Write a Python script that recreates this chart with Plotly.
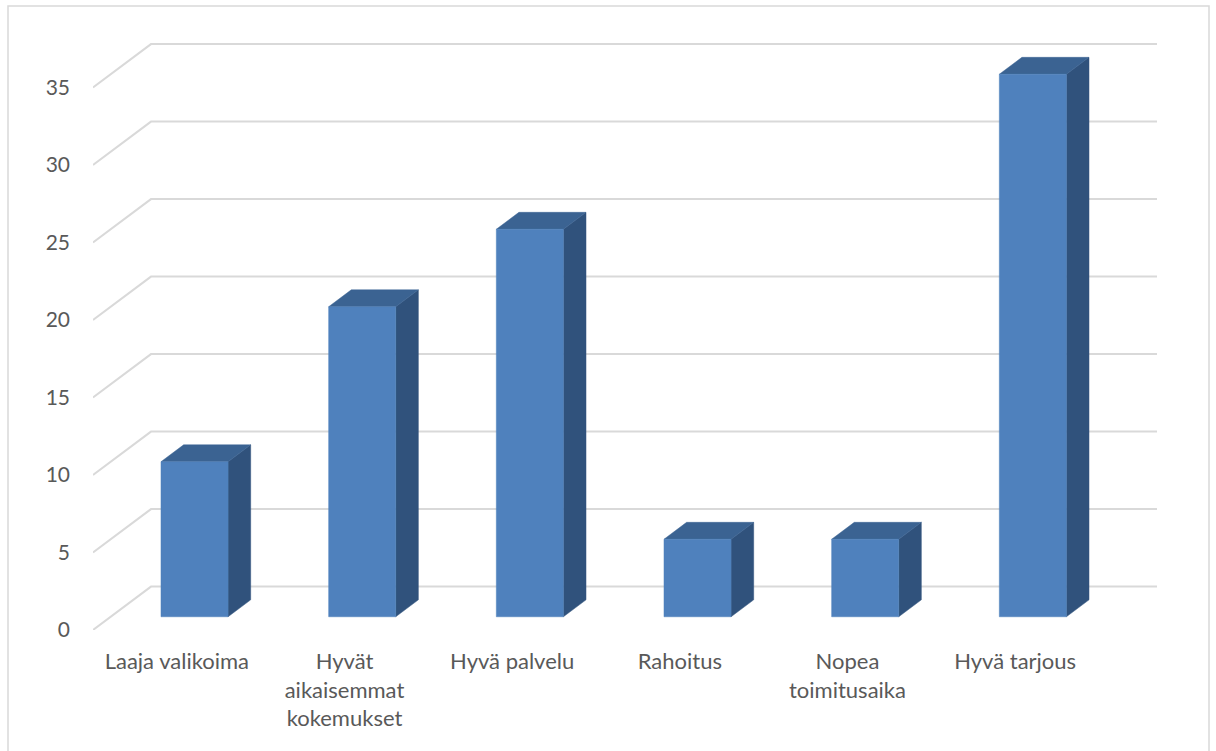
import plotly.graph_objects as go

# Data
categories = [
    "Laaja valikoima",
    "Hyvät<br>aikaisemmat<br>kokemukset",
    "Hyvä palvelu",
    "Rahoitus",
    "Nopea<br>toimitusaika",
    "Hyvä tarjous",
]
values = [10, 20, 25, 5, 5, 35]
y_ticks = [0, 5, 10, 15, 20, 25, 30, 35]

# Oblique projection of the depth axis, expressed in axis units
DEPTH_X = 0.346      # category units
DEPTH_Y = 2.8        # value units
BAR_FRONT = 0.305    # depth fraction where bar fronts sit
BAR_DEPTH = 0.39     # depth fraction taken by each bar
BAR_WIDTH = 0.4      # share of a category slot

FRONT_COLOR = "#4f81bd"
TOP_COLOR = "#3b6392"
SIDE_COLOR = "#30527c"
GRID_COLOR = "#d9d9d9"
TEXT_COLOR = "#595959"
FONT = "Lato"

fig = go.Figure()

# Walls: back-wall gridlines and the left-wall diagonals
n = len(categories)
for t in y_ticks:
    fig.add_trace(go.Scatter(
        x=[0, DEPTH_X, n + DEPTH_X], y=[t, t + DEPTH_Y, t + DEPTH_Y],
        mode="lines", line=dict(color=GRID_COLOR, width=2),
        hoverinfo="skip", showlegend=False,
    ))

# Bars as three projected faces each
dx0, dy0 = BAR_FRONT * DEPTH_X, BAR_FRONT * DEPTH_Y
ddx, ddy = BAR_DEPTH * DEPTH_X, BAR_DEPTH * DEPTH_Y
for i, v in enumerate(values):
    xl = i + 0.5 - BAR_WIDTH / 2 + dx0
    xr = i + 0.5 + BAR_WIDTH / 2 + dx0
    yb, yt = dy0, v + dy0
    faces = [
        (SIDE_COLOR, [xr, xr, xr + ddx, xr + ddx, xr], [yb, yt, yt + ddy, yb + ddy, yb]),
        (TOP_COLOR, [xl, xr, xr + ddx, xl + ddx, xl], [yt, yt, yt + ddy, yt + ddy, yt]),
        (FRONT_COLOR, [xl, xr, xr, xl, xl], [yb, yb, yt, yt, yb]),
    ]
    for color, fx, fy in faces:
        fig.add_trace(go.Scatter(
            x=fx, y=fy, mode="lines", fill="toself", fillcolor=color,
            line=dict(color=color, width=0.5),
            hoverinfo="skip", showlegend=False,
        ))

W, H = 1216, 751
L, R, T, B = 93, 59, 43, 121
px_per_val = 15.5
y_max = (H - T - B) / px_per_val

fig.update_layout(
    width=W, height=H, autosize=False,
    margin=dict(l=L, r=R, t=T, b=B, pad=0),
    paper_bgcolor="white", plot_bgcolor="white",
    font=dict(family=FONT, size=22, color=TEXT_COLOR),
    xaxis=dict(
        range=[0, n + DEPTH_X], showgrid=False, zeroline=False, showline=False,
        tickvals=[i + 0.5 for i in range(n)], ticktext=categories,
        tickfont=dict(size=22), ticks="", ticklabelstandoff=16, fixedrange=True,
    ),
    yaxis=dict(
        range=[0, y_max], showgrid=False, zeroline=False, showline=False,
        tickvals=y_ticks, tickfont=dict(size=21), ticks="",
        ticklabelstandoff=22, fixedrange=True,
    ),
    shapes=[dict(
        type="rect", xref="paper", yref="paper",
        x0=(8 - L) / (W - L - R), x1=(1209 - L) / (W - L - R),
        y0=-(B + 20) / (H - T - B), y1=1 + (T - 6) / (H - T - B),
        line=dict(color=GRID_COLOR, width=1.5), layer="below",
    )],
)

fig.write_html("out.html")
